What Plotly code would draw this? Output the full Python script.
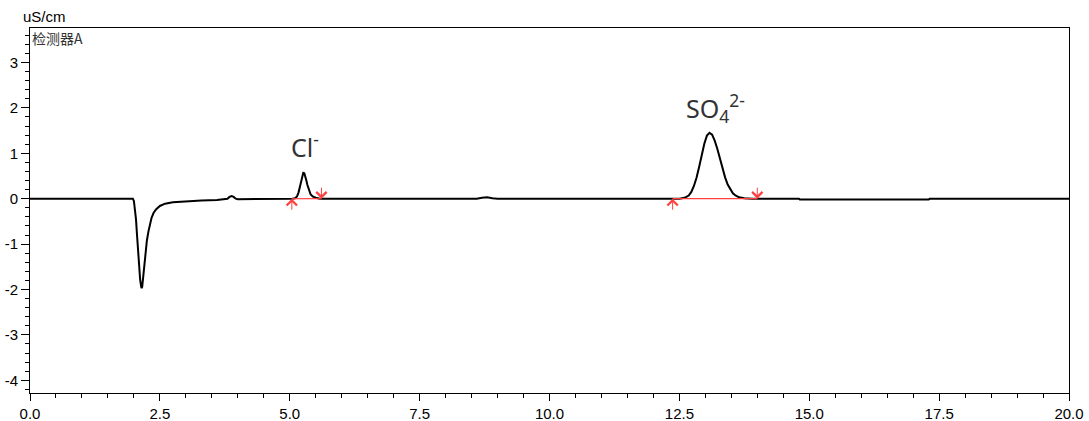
import plotly.graph_objects as go

# Chromatogram trace (time in min, signal in uS/cm)
time = [0.0, 1.98, 2.00, 2.02, 2.04, 2.06, 2.08, 2.10, 2.12, 2.14, 2.15, 2.16, 2.18, 2.20, 2.22,
        2.25, 2.28, 2.31, 2.34, 2.38, 2.43, 2.50, 2.60, 2.75, 3.0, 3.3, 3.6, 3.75,
        3.80, 3.84, 3.88, 3.92, 3.96, 4.0, 4.2, 4.6,
        5.05, 5.10, 5.14, 5.17, 5.20, 5.22, 5.24, 5.26, 5.28, 5.30, 5.32, 5.34, 5.37, 5.40,
        5.44, 5.50, 5.58,
        7.0, 8.6, 8.7, 8.8, 8.9, 9.0,
        12.5, 12.60, 12.68, 12.73, 12.78, 12.83, 12.88, 12.93, 12.98, 13.03, 13.08, 13.13,
        13.18, 13.23, 13.28, 13.33, 13.38, 13.43, 13.48, 13.53, 13.58, 13.65, 13.75, 13.9,
        14.8, 14.82, 17.3, 17.32, 20.0]
signal = [0.0, 0.0, -0.05, -0.2, -0.45, -0.8, -1.15, -1.5, -1.78, -1.94, -1.97, -1.94, -1.72, -1.42, -1.18,
          -0.92, -0.72, -0.55, -0.42, -0.31, -0.23, -0.16, -0.11, -0.08, -0.06, -0.04, -0.03, -0.02,
          0.0, 0.04, 0.06, 0.04, 0.0, -0.01, -0.01, 0.0,
          0.0, 0.01, 0.05, 0.14, 0.30, 0.42, 0.52, 0.57, 0.56, 0.50, 0.40, 0.30, 0.18, 0.10,
          0.05, 0.02, 0.0,
          0.0, 0.0, 0.02, 0.03, 0.01, 0.0,
          0.0, 0.02, 0.07, 0.15, 0.28, 0.46, 0.70, 0.96, 1.21, 1.39, 1.45, 1.41,
          1.28, 1.10, 0.88, 0.66, 0.47, 0.31, 0.20, 0.12, 0.07, 0.03, 0.01, 0.0,
          0.0, -0.02, -0.02, 0.0, 0.0]

# Integration start / end times of the two named peaks
peak_names = ["Cl<sup>-</sup>", "SO<sub>4</sub><sup>2-</sup>"]
peak_start = [5.04, 12.37]
peak_end = [5.61, 14.0]
label_x = [5.29, 13.2]
label_y = [1.18, 2.0]

y_ticks = [-4, -3, -2, -1, 0, 1, 2, 3]
x_ticks = [0.0, 2.5, 5.0, 7.5, 10.0, 12.5, 15.0, 17.5, 20.0]

RED = "#ff4040"

fig = go.Figure()
fig.add_trace(go.Scatter(x=time, y=signal, mode="lines",
                         line=dict(color="black", width=2, shape="linear"),
                         hoverinfo="skip", showlegend=False))

for s, e in zip(peak_start, peak_end):
    fig.add_trace(go.Scatter(x=[s, e], y=[0, 0], mode="lines",
                             line=dict(color=RED, width=1.2),
                             hoverinfo="skip", showlegend=False))
    # start marker: up arrow under baseline
    fig.add_annotation(x=s, y=0, ax=0, ay=12, axref="pixel", ayref="pixel",
                       showarrow=True, arrowhead=4, arrowsize=2.0, arrowwidth=1,
                       arrowcolor=RED, text=" ", font=dict(size=1), borderpad=0)
    # end marker: down arrow above baseline
    fig.add_annotation(x=e, y=0, ax=0, ay=-12, axref="pixel", ayref="pixel",
                       showarrow=True, arrowhead=4, arrowsize=2.0, arrowwidth=1,
                       arrowcolor=RED, text=" ", font=dict(size=1), borderpad=0)

for name, lx, ly in zip(peak_names, label_x, label_y):
    fig.add_annotation(x=lx, y=ly, text=name, showarrow=False,
                       font=dict(family="Noto Sans", size=25, color="#333333"),
                       xanchor="center", yanchor="middle")

fig.add_annotation(xref="paper", yref="paper", x=0, y=1, xanchor="left", yanchor="bottom",
                   xshift=-9, yshift=1, text="uS/cm", showarrow=False,
                   font=dict(family="Liberation Sans", size=15, color="black"))
fig.add_annotation(xref="paper", yref="paper", x=0, y=1, xanchor="left", yanchor="top",
                   xshift=0, yshift=2, text="检测器A", showarrow=False,
                   font=dict(family="Noto Sans CJK SC", size=14, color="#333333"))

fig.update_xaxes(range=[0, 20], tickvals=x_ticks, ticktext=[f"{v:.1f}" for v in x_ticks],
                 ticks="outside", ticklen=7, tickwidth=1, tickcolor="black",
                 showline=True, linecolor="black", linewidth=1, mirror=True,
                 showgrid=False, zeroline=False, automargin=False,
                 tickfont=dict(family="Liberation Sans", size=15, color="black"),
                 minor=dict(dtick=0.5, ticks="outside", ticklen=4, tickcolor="black", showgrid=False))
fig.update_yaxes(range=[-4.28, 3.76], tickvals=y_ticks, ticktext=[str(v) for v in y_ticks],
                 ticks="outside", ticklen=8, tickwidth=1, tickcolor="black",
                 showline=True, linecolor="black", linewidth=1, mirror=True,
                 showgrid=False, zeroline=False, automargin=False,
                 tickfont=dict(family="Liberation Sans", size=15, color="black"),
                 minor=dict(dtick=0.2, ticks="outside", ticklen=4, tickcolor="black", showgrid=False))

fig.update_layout(width=1089, height=421, margin=dict(l=30, r=20, t=28, b=28),
                  plot_bgcolor="white", paper_bgcolor="white", showlegend=False)

fig.write_html("out.html")
